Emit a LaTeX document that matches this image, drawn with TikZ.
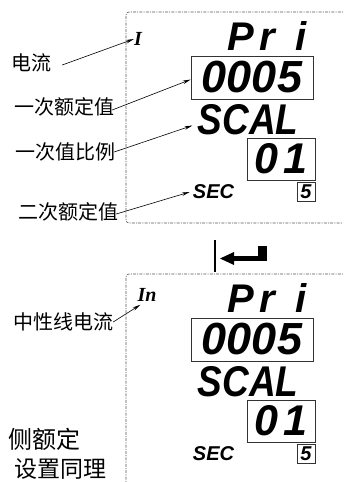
\documentclass[tikz,border=0pt]{standalone}
\usepackage{fontspec}
\setmainfont{Liberation Serif}
\newfontfamily\cjk{Noto Sans CJK SC}
\newfontfamily\lcd{Liberation Sans}
\usetikzlibrary{arrows.meta}

\definecolor{panelEdge}{HTML}{555555}
\definecolor{boxEdge}{HTML}{333333}

\tikzset{
  lcdbig/.style={font=\lcd\fontsize{45}{45}\selectfont\bfseries\itshape, inner sep=0pt},
  lcdsmall/.style={font=\lcd\fontsize{20}{20}\selectfont\bfseries\itshape, inner sep=0pt},
  chanmark/.style={font=\fontsize{20}{20}\selectfont\bfseries\itshape, inner sep=0pt},
  valbox/.style={draw=boxEdge, line width=0.7pt, inner sep=0pt},
  label/.style={font=\cjk\fontsize{20}{20}\selectfont, inner sep=1pt},
  callout/.style={line width=0.6pt, -{Stealth[length=8pt,width=3.5pt]}},
  panel/.style={panelEdge, line width=0.6pt, rounded corners=3pt,
    dash pattern=on 3pt off 1.2pt on 1pt off 1.2pt}
}

\begin{document}
\begin{tikzpicture}[x=1pt,y=-1pt]

  \useasboundingbox (0,0) rectangle (343,482);
  \clip (0,0) rectangle (343,482);

  % Panels
  \draw[panel] (360,12) -- (126,12) -- (126,223) -- (360,223);
  \draw[panel] (360,274) -- (126,274) -- (126,500);

  % Display readout
  \foreach \dy/\p in {0/top,262/bot} {
    \node[lcdbig, font=\lcd\fontsize{40}{40}\selectfont\bfseries\itshape]
      (pri\p) at (267,{36+\dy}) {P\hspace{5pt}r\hspace{20pt}i};
    \node[lcdbig, valbox, minimum width=122, minimum height=43]
      (val\p) at (252,{77.5+\dy}) {0005};
    \node[lcdbig, font=\lcd\fontsize{43}{43}\selectfont\bfseries\itshape]
      (scal\p) at (248,{119.5+\dy}) {\scalebox{0.86}[1]{SCAL}};
    \node[lcdbig, font=\lcd\fontsize{43}{43}\selectfont\bfseries\itshape,
      valbox, minimum width=68, minimum height=42]
      (ratio\p) at (281,{159+\dy}) {0\hspace{6pt}1};
    \node[lcdsmall] (sec\p) at (213.5,{192+\dy}) {SEC};
    \node[lcdsmall, valbox, minimum width=18, minimum height=19]
      (five\p) at (306,{191.5+\dy}) {5};
  }

  % Channel marks
  \node[chanmark] (curI) at (138,39) {I};
  \node[chanmark] (curIn) at (147,295) {In};

  % Labels
  \node[label] (lblCur) at (32,63) {电流};
  \node[label] (lblPri) at (64,107) {一次额定值};
  \node[label] (lblScal) at (66,152) {一次值比例};
  \node[label] (lblSec) at (68,212) {二次额定值};
  \node[label] (lblIn) at (63,322) {中性线电流};

  % Callouts
  \draw[callout] ([xshift=9pt,yshift=-2pt]lblCur.east) -- (curI.west);
  \draw[callout] ([xshift=-3pt,yshift=-3pt]lblPri.east) -- ([yshift=-2pt]valtop.west);
  \draw[callout] ([xshift=-3pt]lblScal.east) -- ([xshift=-5pt,yshift=-6pt]scaltop.west);
  \draw[callout] ([xshift=-3pt,yshift=-2pt]lblSec.east) -- ([xshift=-3pt]sectop.west);
  \draw[callout] ([xshift=-1pt]lblIn.east) -- ([xshift=3pt,yshift=-3pt]curIn.south west);

  % Enter key
  \draw[line width=2pt] (215,240) -- (215,272);
  \fill (220,258.5) -- (234,252) -- (234,265) -- cycle;
  \fill (233,255.5) rectangle (267,261);
  \fill (258,246) rectangle (267,261);

  % Note
  \node[font=\cjk\fontsize{24}{24}\selectfont, anchor=west, inner sep=0pt]
    (noteA) at (8,439) {侧额定};
  \node[font=\cjk\fontsize{23}{23}\selectfont, anchor=west, inner sep=0pt]
    (noteB) at (14,469) {设置同理};

\end{tikzpicture}
\end{document}
